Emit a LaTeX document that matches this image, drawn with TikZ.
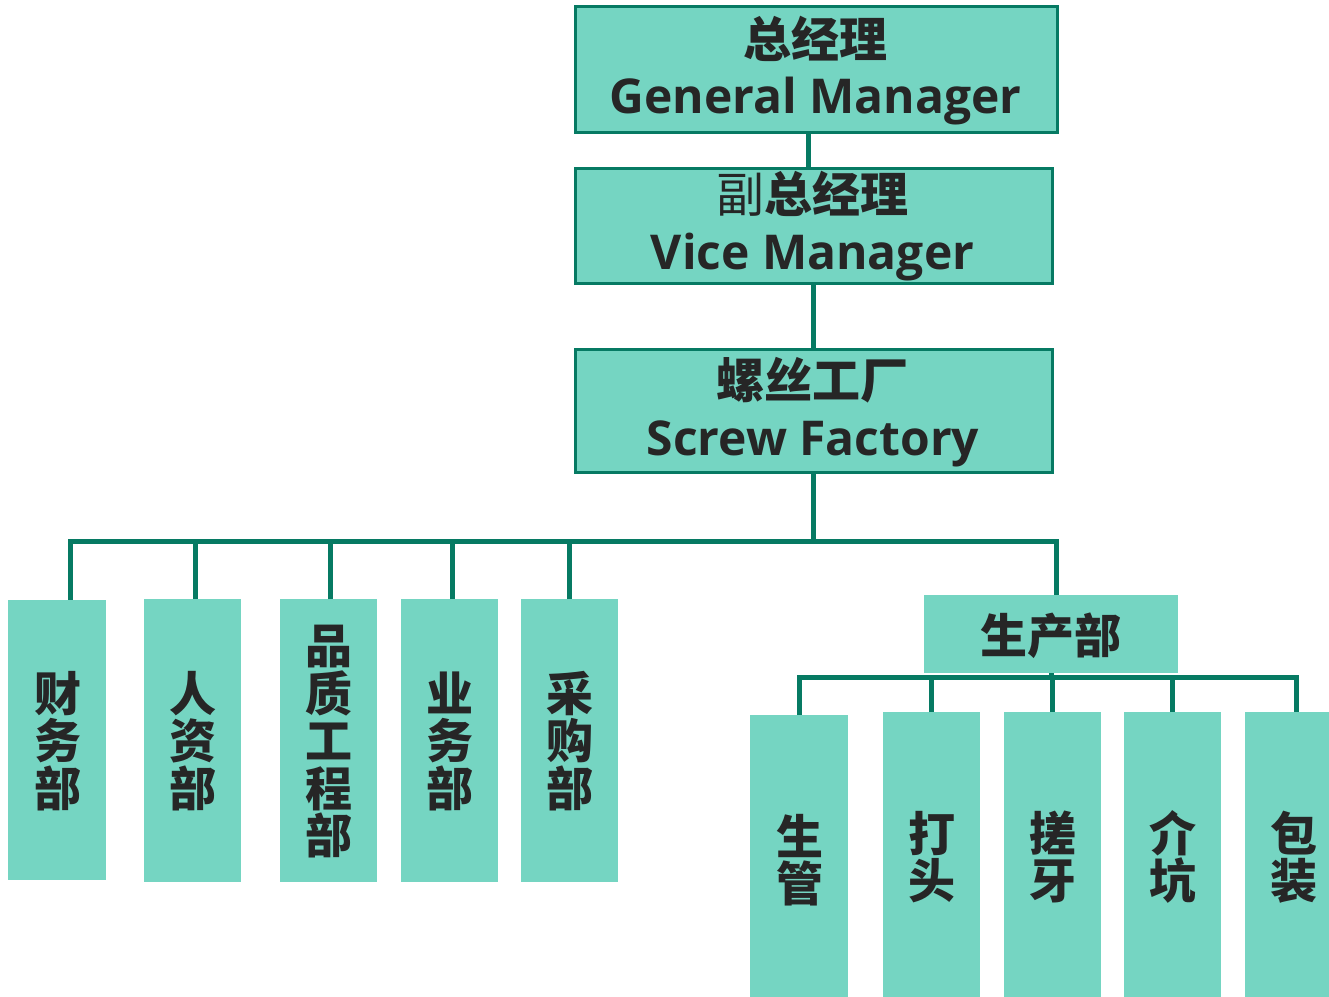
\documentclass[tikz,border=0pt]{standalone}
\usepackage{fontspec}
\newfontfamily\cjk{Noto Sans CJK SC}
\newfontfamily\en{Open Sans}
\definecolor{boxfill}{HTML}{75D5C2}
\definecolor{linegreen}{HTML}{067A63}
\definecolor{txt}{HTML}{262626}
\newcommand\vstack[1]{\parbox{1em}{\centering\lineskiplimit=-100pt\baselineskip=47.5pt #1\par}}
\tikzset{
  box/.style={fill=boxfill, inner sep=0pt, anchor=north west},
  topbox/.style={box, draw=linegreen, line width=2.5pt},
  conn/.style={draw=linegreen, line width=5pt},
  cjktxt/.style={font=\cjk\bfseries\fontsize{48}{48}\selectfont, text=txt, inner sep=0pt, anchor=base},
  entxt/.style={font=\en\bfseries\fontsize{48}{48}\selectfont, text=txt, inner sep=0pt, anchor=base},
  vtext/.style={font=\cjk\bfseries\fontsize{47}{47.5}\selectfont, text=txt, inner sep=0pt}
}
\begin{document}
\begin{tikzpicture}[x=1pt, y={(0pt,-1pt)}]
\useasboundingbox (0,0) rectangle (1329,996);
% top boxes
\node[topbox, minimum width=482pt, minimum height=126pt] (gm) at (574,5) {};
\node[cjktxt] (gmc) at (815,57) {总经理};
\node[entxt] (gme) at (815.5,113) {General Manager};
\node[topbox, minimum width=477pt, minimum height=115pt] (vm) at (574,167) {};
\node[cjktxt] (vmc) at (812.5,212) {{\cjk\mdseries 副}总经理};
\node[entxt] (vme) at (812.5,269) {Vice Manager};
\node[topbox, minimum width=477pt, minimum height=123pt] (sf) at (574,348) {};
\node[cjktxt] (sfc) at (812.5,398) {螺丝工厂};
\node[entxt] (sfe) at (813,455) {Screw Factory};
% department boxes
\node[box, minimum width=98pt, minimum height=280pt] (cw) at (8,600) {};
\node[box, minimum width=97pt, minimum height=283pt] (rz) at (144,599) {};
\node[box, minimum width=97pt, minimum height=283pt] (pz) at (280,599) {};
\node[box, minimum width=97pt, minimum height=283pt] (yw) at (401,599) {};
\node[box, minimum width=97pt, minimum height=283pt] (cg) at (521,599) {};
\node[vtext] (cwt) at (58,741) {\vstack{财\\务\\部}};
\node[vtext] (rzt) at (193,741) {\vstack{人\\资\\部}};
\node[vtext] (pzt) at (329,742) {\vstack{品\\质\\工\\程\\部}};
\node[vtext] (ywt) at (450,741) {\vstack{业\\务\\部}};
\node[vtext] (cgt) at (570,741) {\vstack{采\\购\\部}};
% production
\node[box, minimum width=254pt, minimum height=78pt] (sc) at (924,595) {};
\node[vtext] (sct) at (1051,636) {生产部};
\node[box, minimum width=98pt, minimum height=282pt] (sg) at (750,715) {};
\node[box, minimum width=97pt, minimum height=285pt] (dt) at (883,712) {};
\node[box, minimum width=97pt, minimum height=285pt] (cy) at (1004,712) {};
\node[box, minimum width=97pt, minimum height=285pt] (jk) at (1124,712) {};
\node[box, minimum width=97pt, minimum height=285pt] (bz) at (1245,712) {};
\node[vtext] (sgt) at (800,860) {\vstack{生\\管}};
\node[vtext] (dtt) at (932,857) {\vstack{打\\头}};
\node[vtext] (cyt) at (1053,857) {\vstack{搓\\牙}};
\node[vtext] (jkt) at (1173,857) {\vstack{介\\坑}};
\node[vtext] (bzt) at (1293.5,857) {\vstack{包\\装}};
% connectors
\coordinate (busL) at (70,541);
\coordinate (busR) at (1056,541);
\coordinate (subL) at (799,677);
\coordinate (subR) at (1296,677);
\draw[conn] ([xshift=-8pt]gm.south) -- ([xshift=-5.5pt]vm.north);
\draw[conn] (vm.south) -- (sf.north);
\draw[conn] (sf.south) -- (sf.south |- busL);
\draw[conn, line cap=rect] (busL) -- (busR);
\draw[conn] (busL) -- (busL |- cw.north);
\draw[conn] ([xshift=2.5pt]rz.north) -- ([xshift=2.5pt]rz.north |- busL);
\draw[conn] ([xshift=1.5pt]pz.north) -- ([xshift=1.5pt]pz.north |- busL);
\draw[conn] ([xshift=2.5pt]yw.north) -- ([xshift=2.5pt]yw.north |- busL);
\draw[conn] (cg.north) -- (cg.north |- busL);
\draw[conn] (busR) -- (busR |- sc.north);
\draw[conn] (sc.south) -- (sc.south |- subL);
\draw[conn, line cap=rect] (subL) -- (subR);
\draw[conn] (subL) -- (subL |- sg.north);
\draw[conn] (dt.north) -- (dt.north |- subL);
\draw[conn] (cy.north) -- (cy.north |- subL);
\draw[conn] (jk.north) -- (jk.north |- subL);
\draw[conn] (subR) -- (subR |- bz.north);
\end{tikzpicture}
\end{document}
